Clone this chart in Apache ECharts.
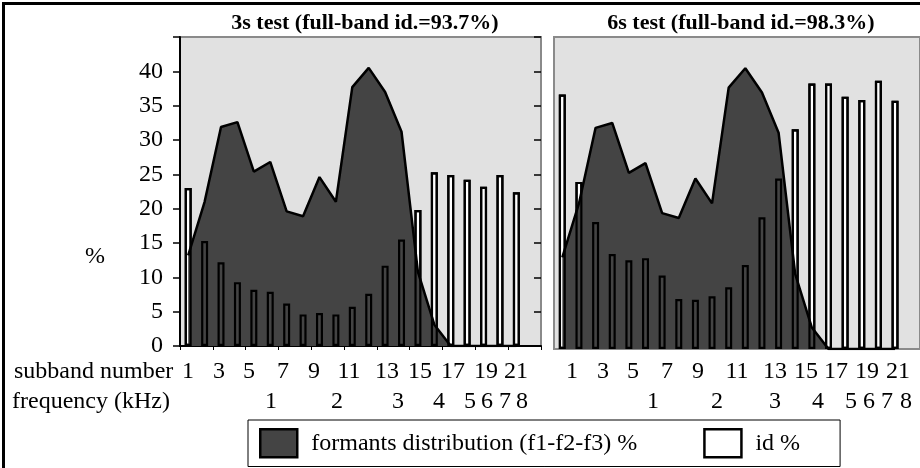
<!DOCTYPE html>
<html><head><meta charset="utf-8">
<script src="https://cdn.jsdelivr.net/npm/echarts@6/dist/echarts.min.js"></script>
<style>html,body{margin:0;padding:0;background:#fff}#c{width:920px;height:468px}</style>
</head><body><div id="c"></div>
<script>
// ---- data ----
const categories = ['1','2','3','4','5','6','7','8','9','10','11','12','13','14','15','16','17','18','19','20','21','22'];
const formants = [13.2, 21.0, 31.9, 32.6, 25.4, 26.8, 19.6, 18.9, 24.6, 21.0, 37.7, 40.5, 37.0, 31.2, 10.8, 3.1, 0, 0, 0, 0, 0];
const id3s = [23.0, 15.3, 12.2, 9.3, 8.2, 7.9, 6.2, 4.6, 4.8, 4.6, 5.7, 7.6, 11.7, 15.5, 19.8, 25.3, 24.9, 24.2, 23.2, 24.9, 22.4];
const id6s = [36.7, 24.1, 18.3, 13.7, 12.8, 13.1, 10.6, 7.2, 7.1, 7.6, 8.9, 12.1, 19.0, 24.6, 31.7, 38.3, 38.3, 36.4, 35.9, 38.7, 35.8];
const subbandLabels = ['1','3','5','7','9','11','13','15','17','19','21'];
const freqLabels = ['1','2','3','4','5','6','7','8'];
const titles = ['3s test (full-band id.=93.7%)', '6s test (full-band id.=98.3%)'];
const legendNames = ['formants distribution (f1-f2-f3) %', 'id %'];
const yMin = 0, yMax = 45, yStep = 5;

// ---- layout ----
const FONT = 'Liberation Serif';
const FS = 24;
const subbandX = [[188,219,249,283,314,349,387,420,453,486,516], [572,603,633,667,698,737,775,806,836,867,898]];
const freqX = [[271,337,398,439,470,487,505,522], [653,717,775,818,851,869,887,906]];
const rowY = [372, 402];

const DARK = '#444444', PLOTBG = '#e1e1e1', BORDER = '#8a8a8a';

const grids = [
  {left:180, top:37, width:361, bottom:122, show:true, backgroundColor:PLOTBG, borderColor:BORDER, borderWidth:2},
  {left:554, top:37, width:375, bottom:119, show:true, backgroundColor:PLOTBG, borderColor:BORDER, borderWidth:2}
];

function xAx(gi, inside, dark){
  return {type:'category', gridIndex:gi, data:categories, boundaryGap:true,
    axisLine:{show:!inside, lineStyle:{color: dark?'#000':BORDER, width:2}},
    axisTick:{show:dark, inside:inside, length:4, lineStyle:{color:'#000', width:1}},
    axisLabel:{show:false}, splitLine:{show:false}};
}
function yAx(gi, inside, labels){
  return {type:'value', gridIndex:gi, min:yMin, max:yMax, interval:yStep,
    axisLine:{show:labels && !inside, lineStyle:{color:'#000', width:2}},
    axisTick:{show:labels, inside:inside, length:7, lineStyle:{color:'#000', width:1.5}},
    axisLabel:{show:labels && !inside, margin:17, fontFamily:FONT, fontSize:FS, color:'#000',
      formatter:v => v >= yMax ? '' : String(v)},
    splitLine:{show:false}};
}

const xAxes = [xAx(0,false,true), xAx(0,true,true), xAx(1,false,false)];
const yAxes = [yAx(0,false,true), yAx(0,true,true), yAx(1,false,false)];

function panelSeries(xi, yi, ids){
  return [
    {name:legendNames[1], type:'bar', xAxisIndex:xi, yAxisIndex:yi, data:ids, barWidth:7, barGap:'-100%', z:1,
      itemStyle:{color:'#fff', borderColor:'#000', borderWidth:2.2}, animation:false},
    {name:legendNames[0], type:'line', xAxisIndex:xi, yAxisIndex:yi, data:formants, symbol:'none', z:2,
      lineStyle:{color:'#000', width:2.5}, areaStyle:{color:DARK, opacity:1}, itemStyle:{color:DARK}, animation:false},
    {name:'id outline', type:'bar', xAxisIndex:xi, yAxisIndex:yi, data:ids, barWidth:7, barGap:'-100%', z:3,
      itemStyle:{color:'rgba(0,0,0,0)', borderColor:'#000', borderWidth:2.2}, animation:false}
  ];
}

const graphics = [
  {type:'rect', shape:{x:3.5, y:3.5, width:960, height:480}, style:{fill:null, stroke:'#000', lineWidth:3}, z:100},
  {type:'text', x:14, y:rowY[0], style:{text:'subband number', font:`${FS}px "${FONT}"`, fill:'#000', textVerticalAlign:'middle'}},
  {type:'text', x:12, y:rowY[1], style:{text:'frequency (kHz)', font:`${FS}px "${FONT}"`, fill:'#000', textVerticalAlign:'middle'}},
  {type:'text', x:95, y:257, style:{text:'%', font:`${FS}px "${FONT}"`, fill:'#000', textAlign:'center', textVerticalAlign:'middle'}}
];
for (let p = 0; p < 2; p++) {
  subbandLabels.forEach((t,i)=>graphics.push({type:'text', x:subbandX[p][i], y:rowY[0],
    style:{text:t, font:`${FS}px "${FONT}"`, fill:'#000', textAlign:'center', textVerticalAlign:'middle'}}));
  freqLabels.forEach((t,i)=>graphics.push({type:'text', x:freqX[p][i], y:rowY[1],
    style:{text:t, font:`${FS}px "${FONT}"`, fill:'#000', textAlign:'center', textVerticalAlign:'middle'}}));
}

const chart = echarts.init(document.getElementById('c'), null, {renderer:'canvas'});
chart.setOption({
  animation:false,
  backgroundColor:'#fff',
  title:[
    {text:titles[0], left:360, top:7, textAlign:'center', textStyle:{fontFamily:FONT, fontSize:22, fontWeight:'bold', color:'#000'}},
    {text:titles[1], left:736, top:7, textAlign:'center', textStyle:{fontFamily:FONT, fontSize:22, fontWeight:'bold', color:'#000'}}
  ],
  legend:{left:248, top:420, orient:'horizontal', itemWidth:37, itemHeight:28, itemGap:66,
    padding:[8,40,8,11], borderColor:'#000', borderWidth:1, backgroundColor:'#fff',
    selectedMode:false,
    textStyle:{fontFamily:FONT, fontSize:24, color:'#000', padding:[0,0,0,9]},
    data:[
      {name:legendNames[0], icon:'rect', itemStyle:{color:DARK, borderColor:'#000', borderWidth:2.5}},
      {name:legendNames[1], icon:'rect', itemStyle:{color:'#fff', borderColor:'#000', borderWidth:2.5}}
    ]},
  grid:grids,
  xAxis:xAxes,
  yAxis:yAxes,
  series:[...panelSeries(0,0,id3s), ...panelSeries(2,2,id6s)],
  graphic:graphics
});
</script></body></html>
